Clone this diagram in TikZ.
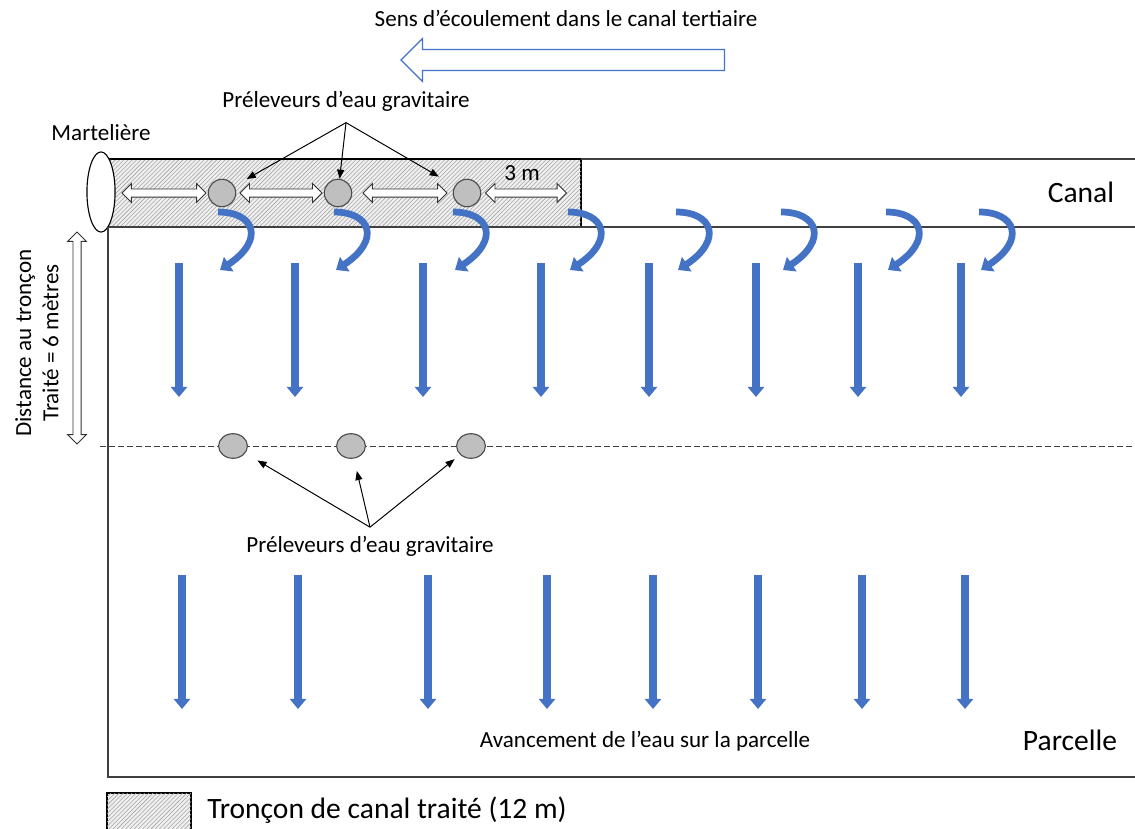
\documentclass[tikz,border=0pt]{standalone}
\usepackage{fontspec}
\setmainfont{Carlito}
\usepackage{tikz}
\usetikzlibrary{arrows.meta,patterns,shapes.arrows,shapes.geometric}
\definecolor{eau}{HTML}{4472C4}
\definecolor{trait}{HTML}{404040}
\newcommand{\taillepetite}{\fontsize{16.4}{19.4}\selectfont}
\newcommand{\taillegrande}{\fontsize{21}{25}\selectfont}
\def\deversoir(#1){\draw[deverse] (#1,212) .. controls (#1+37,212) and (#1+47,240) .. (#1+2,270);}
\tikzset{
	hachure/.style={draw=black, line width=0.8pt, fill=gray!12, postaction={pattern=north east lines, pattern color=gray!70}},
	preleveur/.style={circle, draw=black!70, fill=gray!50, line width=0.8pt, minimum size=19.5pt, inner sep=0pt},
	preleveurbas/.style={ellipse, draw=black!70, fill=gray!50, line width=0.8pt, minimum width=20.5pt, minimum height=17.5pt, inner sep=0pt},
	fleche3m/.style={double arrow, draw=black!80, fill=white, line width=0.6pt, inner xsep=0pt, inner ysep=2.6pt, double arrow head extend=3.8pt},
	avance/.style={line width=5.7pt, color=eau, -{Triangle[width=11.5pt,length=7.2pt]}},
	deverse/.style={line width=4.8pt, color=eau, -{Triangle[width=12pt,length=7.5pt]}},
	renvoi/.style={line width=0.7pt, -{Triangle[width=5pt,length=6.5pt]}},
	etiq/.style={font=\taillepetite, inner sep=2pt},
	bord/.style={line width=0.9pt, color=trait}
}

\begin{document}
\begin{tikzpicture}[x=0.025cm, y=-0.025cm]
			%%%%% START %%%%%
			\useasboundingbox (0,0) rectangle (1135,828);
			
			\node[etiq] (sens) at (566,18) {Sens d’écoulement dans le canal tertiaire};
			\node[single arrow, rotate=180, draw=eau, fill=white, line width=0.8pt, inner xsep=0pt, inner ysep=7.1pt, minimum height=230pt, single arrow head extend=7.8pt] (ecoul) at (568,60) {};
			
			% canal
			\draw[hachure] (108,159) rectangle (581,227);
			\draw[line width=1.6pt] (108,159) -- (581,159);
			\draw[bord] (581,159) -- (1135,159);
			\draw[bord] (108,227) -- (1135,227);
			\node[ellipse, draw, fill=white, line width=0.8pt, minimum width=20pt, minimum height=57pt, inner sep=0pt] (mart) at (101,192) {};
			\node[etiq] (martlab) at (101,133) {Martelière};
			
			\node[fleche3m, minimum height=59.8pt] (d1) at (164,193) {};
			\node[fleche3m, minimum height=58.3pt] (d2) at (281,193) {};
			\node[fleche3m, minimum height=59.8pt] (d3) at (405,193) {};
			\node[fleche3m, minimum height=57.6pt] (d4) at (526,193) {};
			\node[etiq] (trois) at (522,173) {3 m};
			
			\node[preleveur] (c1) at (222,193) {};
			\node[preleveur] (c2) at (338,193) {};
			\node[preleveur] (c3) at (467,193) {};
			
			\node[etiq] (haut) at (346,101) {Préleveurs d’eau gravitaire};
			\coordinate (hautpt) at ([yshift=-6pt]haut.south);
			\draw[renvoi, shorten >=10pt] (hautpt) -- (c1);
			\draw[renvoi] (hautpt) -- (c2);
			\draw[renvoi, shorten >=13pt] (hautpt) -- (c3);
			
			\node[font=\taillegrande] (canal) at (1081,192) {Canal};
			
			% deversements
			\deversoir(218)
			\deversoir(334)
			\deversoir(453)
			\deversoir(568)
			\deversoir(676)
			\deversoir(781)
			\deversoir(886)
			\deversoir(979)
			
			% parcelle
			\draw[bord] (108,227) -- (108,777) -- (1135,777);
			\node[fleche3m, rotate=90, minimum height=150.8pt] (dist) at (77,338) {};
			\node[etiq, rotate=90, align=center] (distlab) at (37,343) {Distance au tronçon\\Traité = 6 mètres};
			
			\draw[avance] (179,263) -- (179,397);
			\draw[avance] (295,263) -- (295,397);
			\draw[avance] (423,263) -- (423,397);
			\draw[avance] (541,263) -- (541,397);
			\draw[avance] (649,263) -- (649,397);
			\draw[avance] (756,263) -- (756,397);
			\draw[avance] (858,263) -- (858,397);
			\draw[avance] (961,263) -- (961,397);
			
			\draw[line width=0.7pt, color=trait, dash pattern=on 4.2pt off 2.2pt] (100,446) -- (1135,446);
			\node[preleveurbas] (e1) at (233,446) {};
			\node[preleveurbas] (e2) at (351,446) {};
			\node[preleveurbas] (e3) at (471,446) {};
			
			\node[etiq] (bas) at (370,546) {Préleveurs d’eau gravitaire};
			\coordinate (baspt) at ([yshift=4pt]bas.north);
			\draw[renvoi, shorten >=10pt] (baspt) -- (e1);
			\draw[renvoi, shorten >=9pt] (baspt) -- (e2);
			\draw[renvoi, shorten >=5pt] (baspt) -- (e3);
			
			\draw[avance] (182,575) -- (182,709);
			\draw[avance] (298,575) -- (298,709);
			\draw[avance] (428,575) -- (428,709);
			\draw[avance] (547,575) -- (547,709);
			\draw[avance] (653,575) -- (653,709);
			\draw[avance] (758,575) -- (758,709);
			\draw[avance] (862,575) -- (862,709);
			\draw[avance] (965,575) -- (965,709);
			
			\node[etiq] (avancement) at (645,741) {Avancement de l’eau sur la parcelle};
			\node[font=\taillegrande] (parcelle) at (1070,740) {Parcelle};
			
			% legende
			\draw[hachure] (107,793) rectangle (191,834);
			\node[font=\taillegrande, anchor=west, inner sep=0pt] (legende) at (207,810) {Tronçon de canal traité (12 m)};
			
			%%%%% END %%%%%
\end{tikzpicture}
\end{document}
